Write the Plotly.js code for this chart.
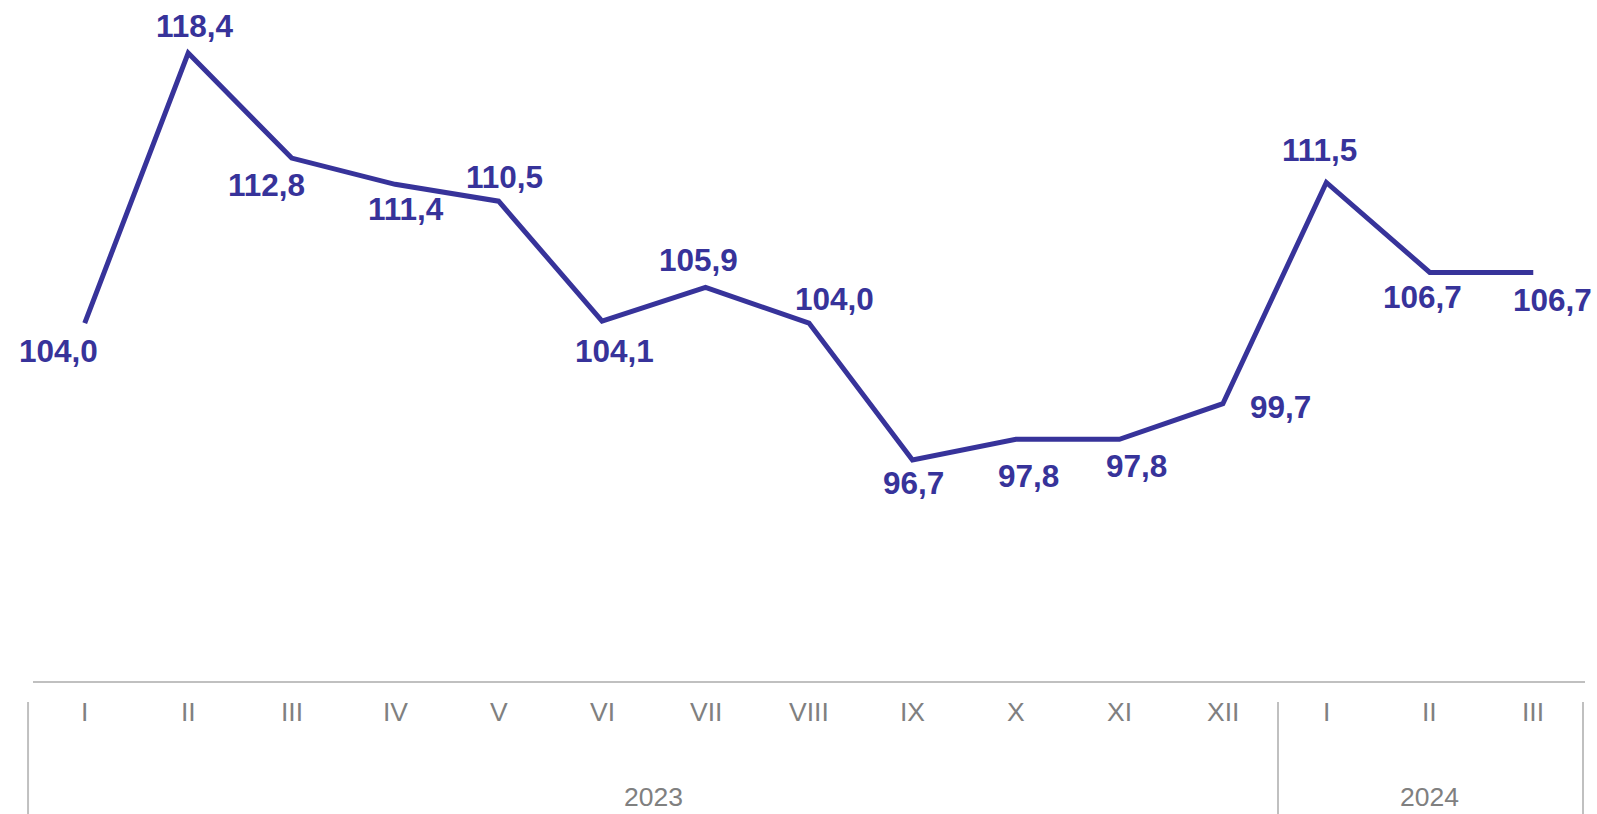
<!DOCTYPE html>
<html>
<head>
<meta charset="utf-8">
<script src="https://cdn.plot.ly/plotly-3.0.1.min.js"></script>
<style>
html,body{margin:0;padding:0;background:#fff;}
#chart{width:1597px;height:814px;}
</style>
</head>
<body>
<div id="chart"></div>
<script>
// Data
var months = ["I","II","III","IV","V","VI","VII","VIII","IX","X","XI","XII","I","II","III"];
var values = [104.0,118.4,112.8,111.4,110.5,104.1,105.9,104.0,96.7,97.8,97.8,99.7,111.5,106.7,106.7];
var years = ["2023","2024"];
var yearSpans = [[0,11],[12,14]];

// Label offsets (layout only, pixels)
var labelShift = [[-26,28],[7,-27],[-25,27],[11,25],[6,-24],[12,30],[-7,-27],[25,-24],[1,23],[13,37],[17,27],[58,3],[-7,-32],[-7,25],[19,28]];

var lineColor = "#37339a";
var grayText = "#808080";
var font = "Liberation Sans, Arial, sans-serif";

var idx = values.map(function(_, i){ return i; });

var trace = {
  x: idx, y: values, type: "scatter", mode: "lines",
  line: {color: lineColor, width: 5},
  hoverinfo: "skip"
};

var annotations = [];
values.forEach(function(v, i){
  annotations.push({
    x: i, y: v, xref: "x", yref: "y",
    text: v.toFixed(1).replace(".", ","),
    showarrow: false,
    xshift: labelShift[i][0], yshift: -labelShift[i][1],
    font: {family: font, size: 31.5, color: lineColor, weight: "bold"},
    xanchor: "center", yanchor: "middle"
  });
});
months.forEach(function(m, i){
  annotations.push({
    x: i, y: 0, xref: "x", yref: "paper",
    text: m, showarrow: false, yshift: -31,
    font: {family: font, size: 26.5, color: grayText},
    xanchor: "center", yanchor: "middle"
  });
});
years.forEach(function(yr, k){
  annotations.push({
    x: (yearSpans[k][0] + yearSpans[k][1]) / 2, y: 0, xref: "x", yref: "paper",
    text: yr, showarrow: false, yshift: -116,
    font: {family: font, size: 26.5, color: grayText},
    xanchor: "center", yanchor: "middle"
  });
});

var dividerX = [-0.0032, 0.8022, 0.9987];
var shapes = dividerX.map(function(xv){
  return {
    type: "line", xref: "paper", yref: "paper",
    ysizemode: "pixel", yanchor: 0,
    x0: xv, x1: xv, y0: -21, y1: -140,
    line: {color: "#c0c0c0", width: 2}
  };
});

var layout = {
  width: 1597, height: 814,
  margin: {l: 33, r: 12, t: 0, b: 133},
  paper_bgcolor: "#fff", plot_bgcolor: "#fff",
  showlegend: false,
  xaxis: {
    range: [-0.5, 14.5], showgrid: false, zeroline: false,
    showline: true, linecolor: "#c0c0c0", linewidth: 2,
    showticklabels: false, ticks: "", fixedrange: true
  },
  yaxis: {
    range: [84.91, 121.23], visible: false, showgrid: false, zeroline: false, fixedrange: true
  },
  annotations: annotations,
  shapes: shapes
};

Plotly.newPlot("chart", [trace], layout, {displayModeBar: false, staticPlot: true});
</script>
</body>
</html>
